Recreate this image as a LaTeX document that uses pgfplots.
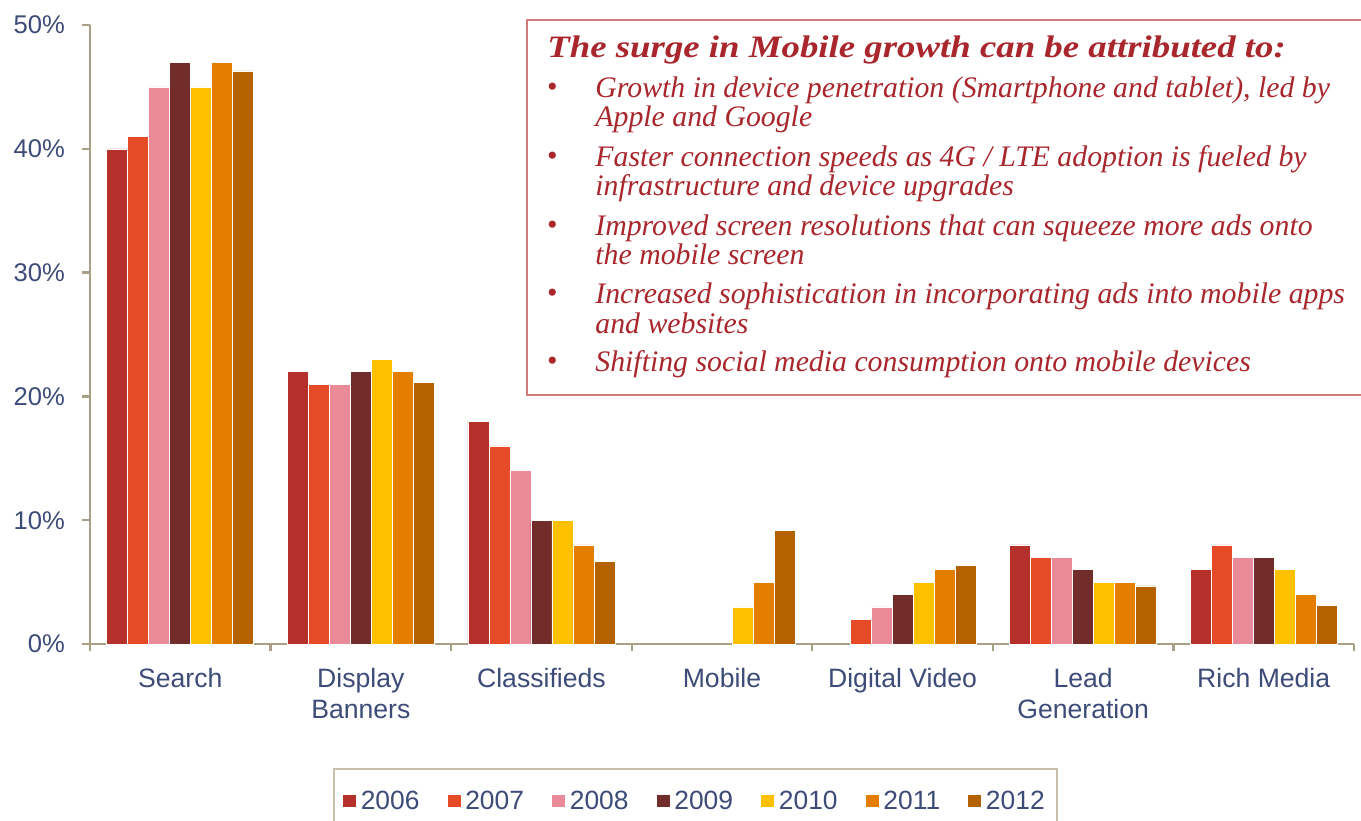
\documentclass[border=0pt]{standalone}
\usepackage{pgfplots}
\pgfplotsset{compat=1.18}
\usepackage{fontspec}
\setmainfont{Liberation Sans}
\newfontfamily\boxfont{Liberation Serif}
\newfontfamily\titlefont{Liberation Serif}[FakeStretch=1.18]
\definecolor{c2006}{HTML}{B5302A}
\definecolor{c2007}{HTML}{E54B26}
\definecolor{c2008}{HTML}{EA8A99}
\definecolor{c2009}{HTML}{722D2B}
\definecolor{c2010}{HTML}{FFC000}
\definecolor{c2011}{HTML}{E37E00}
\definecolor{c2012}{HTML}{B46200}
\definecolor{axisc}{HTML}{A89F84}
\definecolor{labelc}{HTML}{3D4B78}
\definecolor{boxc}{HTML}{D07A7A}
\definecolor{textc}{HTML}{A8262C}
\definecolor{legc}{HTML}{C8C0A8}
\begin{document}
\begin{tikzpicture}[x=1pt,y=1pt]
\path[use as bounding box] (0,0) rectangle (680.5,410);
\begin{axis}[
  at={(45pt,88pt)}, anchor=south west,
  scale only axis, width=632pt, height=309.5pt,
  xmin=-0.5, xmax=6.5, ymin=0, ymax=50,
  axis x line*=bottom, axis y line*=left,
  axis line style={color=axisc, line width=1.2pt},
  ytick={0,10,20,30,40,50},
  yticklabels={0\%,10\%,20\%,30\%,40\%,50\%},
  xtick={0,1,2,3,4,5,6},
  xticklabels={Search,{Display\\Banners},Classifieds,Mobile,{Digital Video},{Lead\\Generation},{Rich Media}},
  minor xtick={-0.5,0.5,1.5,2.5,3.5,4.5,5.5,6.5},
  major x tick style={draw=none},
  tick align=outside,
  major tick length=4pt, minor tick length=3.5pt,
  tick style={color=axisc, line width=1.2pt},
  xticklabel style={align=center, yshift=-4.5pt, font=\fontsize{13.3}{15.5}\selectfont, text=labelc},
  yticklabel style={xshift=-5pt, font=\fontsize{12.8}{15}\selectfont, text=labelc},
  ybar=0pt, bar width=10.5pt,
  legend columns=7,
  legend style={at={(0.479,-0.2003)}, anchor=north, draw=legc, line width=0.8pt,
    inner xsep=4pt, inner ysep=9pt,
    font=\fontsize{13.2}{15}\selectfont, text=labelc,
    /tikz/every even column/.append style={column sep=11.6pt}},
  legend image code/.code={\fill[#1] (0pt,-2.8pt) rectangle (7pt,3.7pt);},
]
\addplot[fill=c2006, draw=white, line width=0.3pt] coordinates {(0,40) (1,22) (2,18) (5,8) (6,6)};
\addplot[fill=c2007, draw=white, line width=0.3pt] coordinates {(0,41) (1,21) (2,16) (4,2) (5,7) (6,8)};
\addplot[fill=c2008, draw=white, line width=0.3pt] coordinates {(0,45) (1,21) (2,14) (4,3) (5,7) (6,7)};
\addplot[fill=c2009, draw=white, line width=0.3pt] coordinates {(0,47) (1,22) (2,10) (4,4) (5,6) (6,7)};
\addplot[fill=c2010, draw=white, line width=0.3pt] coordinates {(0,45) (1,23) (2,10) (3,3) (4,5) (5,5) (6,6)};
\addplot[fill=c2011, draw=white, line width=0.3pt] coordinates {(0,47) (1,22) (2,8) (3,5) (4,6) (5,5) (6,4)};
\addplot[fill=c2012, draw=white, line width=0.3pt] coordinates {(0,46.3) (1,21.1) (2,6.7) (3,9.2) (4,6.35) (5,4.7) (6,3.1)};
\legend{2006,2007,2008,2009,2010,2011,2012}
\end{axis}
\draw[boxc, line width=0.8pt, fill=white] (263.5,212.5) rectangle (690,400);
\begin{scope}[every node/.style={anchor=base west, inner sep=0pt, text=textc, font=\boxfont\itshape\fontsize{14.9}{17}\selectfont}]
\node[font=\titlefont\bfseries\itshape\fontsize{15.6}{18}\selectfont] at (273.5,381) {The surge in Mobile growth can be attributed to:};
\foreach \y in {361,326.5,292,258,224}{\node[anchor=center] at (276,\y+4) {\textbullet};}
\node at (297.5,361) {Growth in device penetration (Smartphone and tablet), led by};
\node at (297.5,346.5) {Apple and Google};
\node at (297.5,326.5) {Faster connection speeds as 4G / LTE adoption is fueled by};
\node at (297.5,312) {infrastructure and device upgrades};
\node at (297.5,292) {Improved screen resolutions that can squeeze more ads onto};
\node at (297.5,277.5) {the mobile screen};
\node at (297.5,258) {Increased sophistication in incorporating ads into mobile apps};
\node at (297.5,243) {and websites};
\node at (297.5,224) {Shifting social media consumption onto mobile devices};
\end{scope}
\end{tikzpicture}
\end{document}
